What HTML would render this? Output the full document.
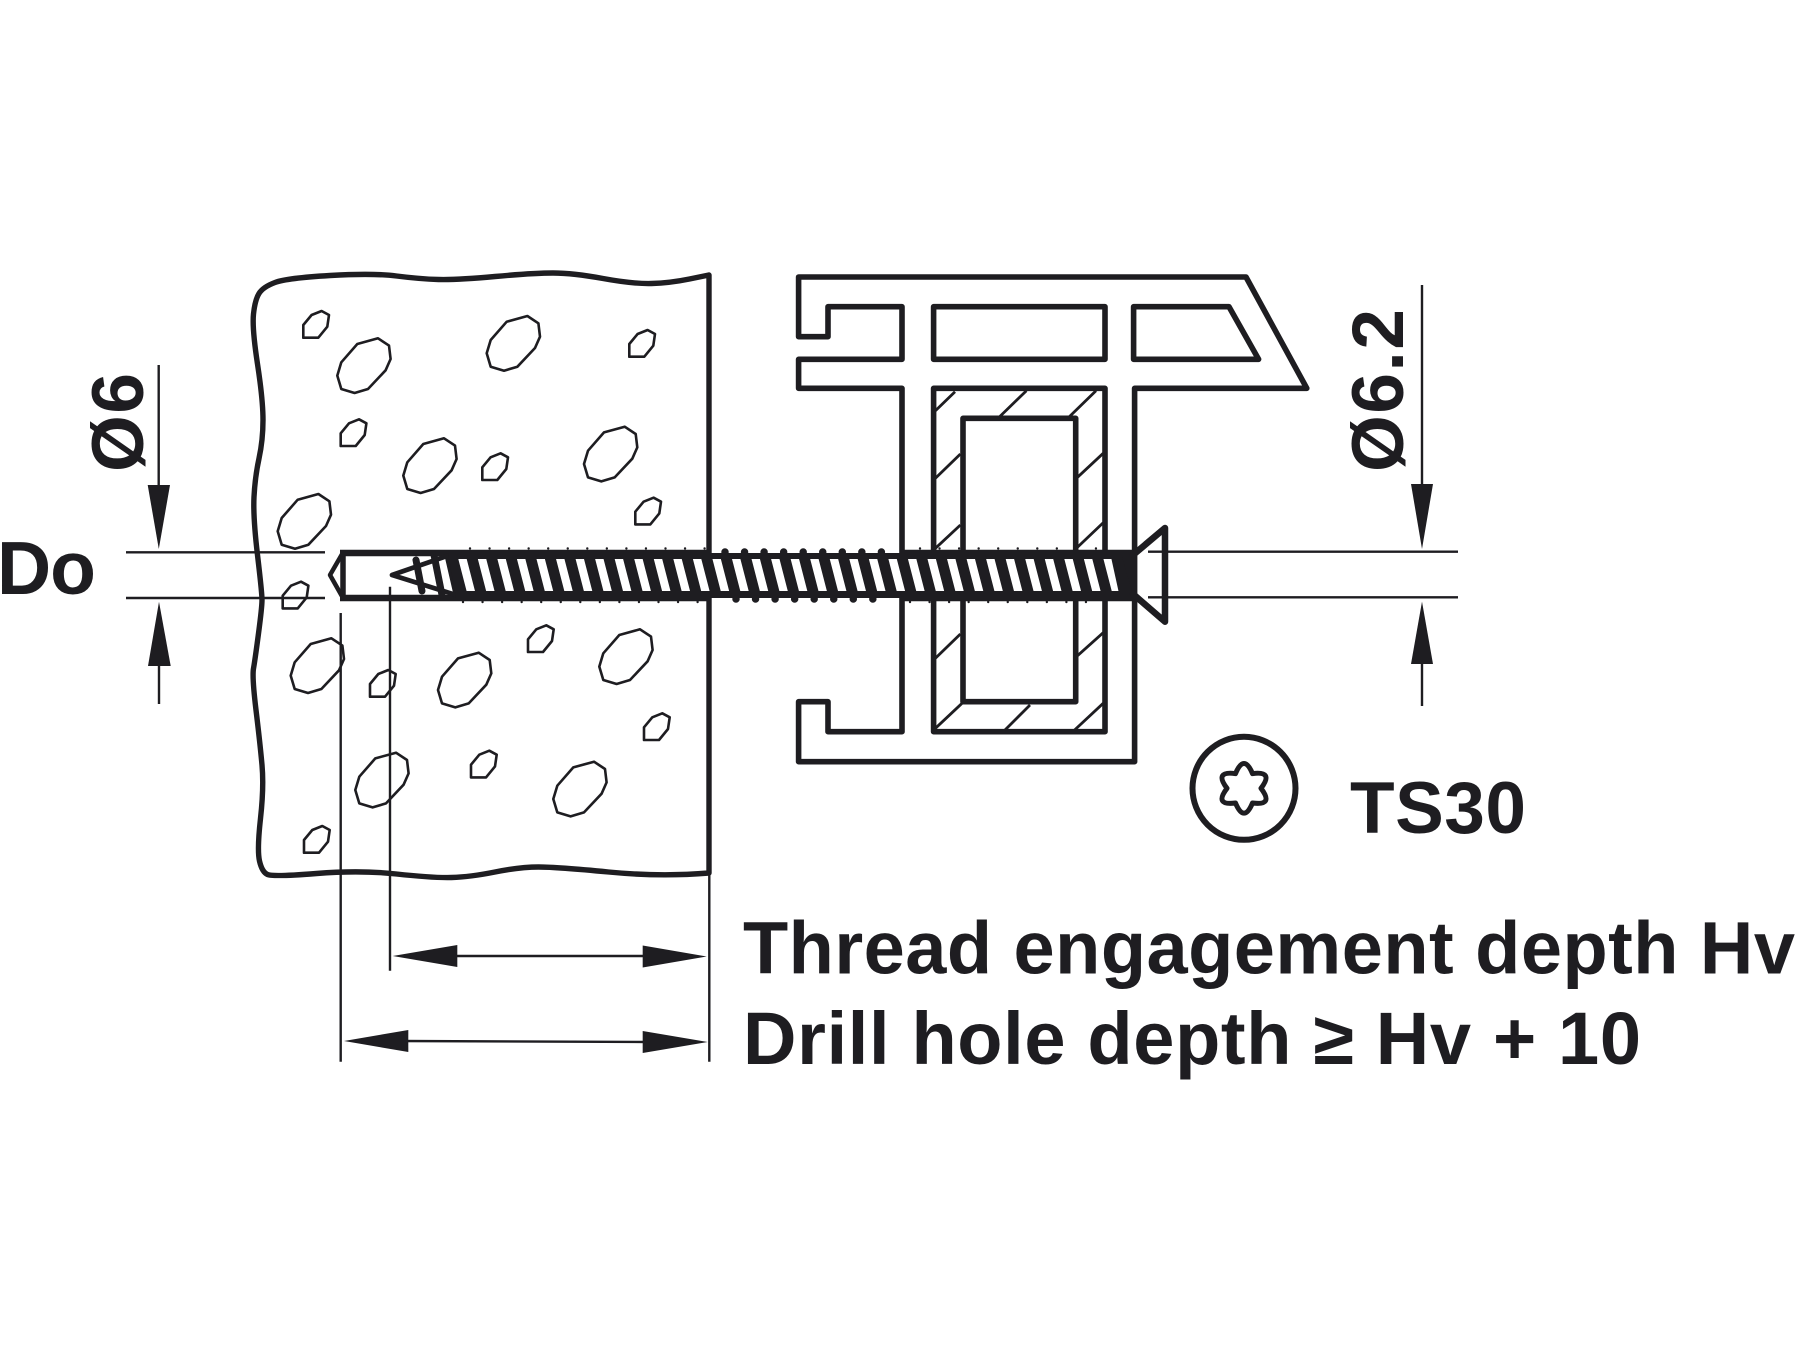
<!DOCTYPE html>
<html>
<head>
<meta charset="utf-8">
<style>
html,body{margin:0;padding:0;background:#fff;width:1800px;height:1350px;overflow:hidden}
svg{display:block}
text{font-family:"Liberation Sans",Arial,sans-serif;font-weight:bold;fill:#1e1d21}
</style>
</head>
<body>
<svg width="1800" height="1350" viewBox="0 0 1800 1350" xmlns="http://www.w3.org/2000/svg">
<defs>
<polygon id="big" points="40.7,0 51.7,7.3 53.3,20.7 48.3,32 30.7,50.7 17.3,54.7 4,50.7 0,37.3 4,24 20,5.7" fill="none" stroke="#1e1d21" stroke-width="2.6" stroke-linejoin="round"/>
<polygon id="small" points="18.3,0 25.7,4 24,15.7 15,26.7 0,26.7 0,14 8.3,4" fill="none" stroke="#1e1d21" stroke-width="2.6" stroke-linejoin="round"/>
</defs>
<rect width="1800" height="1350" fill="#fff"/>

<!-- concrete outline -->
<path d="M709,275 L689.5,279 Q670,283 651.5,283.5 Q633,284 603,278.5 Q573,273 553,273 Q533,273 495,276.5 Q457,280 438.5,279.5 Q420,279 396.5,276 Q373,273 330,275.5 Q287,278 275,282.5 Q263,287 259,293.5 Q255,300 253.5,314 Q252,328 257.5,364 Q263,400 263,420 Q263,440 259,458.5 Q255,477 254,497 Q253,517 257.5,555 Q262,593 262,600 Q262,607 258.5,633.5 Q255,660 253.5,668.5 Q252,677 256,710 Q260,743 262,765 Q264,787 260.5,818.5 Q257,850 259.5,861 Q262,872 267.5,874.5 Q273,877 316.5,873.5 Q360,870 396.5,874 Q433,878 451.5,877.5 Q470,877 495,872 Q520,867 538.5,867 Q557,867 608.5,872 Q660,877 709,873 V275 Z" fill="none" stroke="#1e1d21" stroke-width="5.4" stroke-linejoin="round"/>

<!-- stones -->
<g>
<use href="#big" x="486.7" y="316"/><use href="#big" x="337.3" y="338.3"/><use href="#big" x="403.3" y="438.3"/><use href="#big" x="584" y="426.7"/><use href="#big" x="277.7" y="494"/>
<use href="#big" x="290.7" y="638.3"/><use href="#big" x="438" y="652.7"/><use href="#big" x="599.3" y="629.3"/><use href="#big" x="355.3" y="752.7"/><use href="#big" x="553.3" y="761.7"/>
<use href="#small" x="303.3" y="311"/><use href="#small" x="629.3" y="330"/><use href="#small" x="340.7" y="419.3"/><use href="#small" x="482.3" y="453.3"/><use href="#small" x="635.3" y="497.7"/><use href="#small" x="282.7" y="581.7"/><use href="#small" x="528" y="625.3"/>
<use href="#small" x="370" y="670"/><use href="#small" x="644" y="713.3"/><use href="#small" x="471" y="750.7"/><use href="#small" x="304" y="826"/>
</g>

<!-- profile -->
<g fill="none" stroke="#1e1d21" stroke-width="5.6" stroke-linejoin="round" stroke-linecap="round">
<path d="M902,600 V731.7 H828 V701.7 H798.6 V761.7 H1134.6 V388.3 H1306.8 L1246,277 H798.6 V336.7 H828 V306.7 H902 V359.3 H798.6 V388.3 H902 V600"/>
<rect x="933.6" y="306.7" width="171.4" height="52.6"/>
<path d="M1133.6,306.7 H1229 L1258.6,359.3 H1133.6 Z"/>
<rect x="933.6" y="388.3" width="171.4" height="343.4"/>
<rect x="963" y="418.3" width="112.7" height="283.4"/>
</g>
<g stroke="#1e1d21" stroke-width="2.8" fill="none">
<path d="M935.4,410.7 L955,391.7 M999.6,416.7 L1026.4,390.7 M1069.3,416.7 L1096,390.7 M935.4,478.3 L960.4,454 M1076.4,478.3 L1103.2,453.3 M935.4,548.3 L960.4,525 M1076.4,548.3 L1103.2,522.7 M935.4,658.3 L960.4,634 M1076.4,656.7 L1103.2,632.7 M935.4,728.3 L962,703.3 M1005,730 L1030,705 M1074.6,730 L1103.2,703.3"/>
</g>

<!-- centre thin lines -->
<g stroke="#1e1d21" stroke-width="2.4" fill="none">
<path d="M126,552.3 H325 M126,598 H325 M1148,551.7 H1458 M1148,597.3 H1458"/>
</g>

<!-- drill hole -->
<g stroke="#1e1d21" fill="none" stroke-linejoin="round">
<path d="M343,553 V598" stroke-width="5.5"/>
<path d="M343,552.5 L330,575 L343,598" stroke-width="4.5"/>
<path d="M340,553 H710 M902,553 H1134 M340,598 H710 M902,598 H1134" stroke-width="6.5"/>
</g>

<!-- screw -->
<g>
<path d="M392,575 L447,556 L456,595 Z" fill="#fff" stroke="#1e1d21" stroke-width="4.8" stroke-linejoin="round"/>
<path d="M416,560 L422,591 M434,555 L442,595" stroke="#1e1d21" stroke-width="7" stroke-linecap="round" fill="none"/>
<path d="M448,553 H1134 V598 H456 Z" fill="#1e1d21"/>
<g transform="translate(438.8,559) skewX(14.5)">
<line x1="19.5" y1="16" x2="674" y2="16" stroke="#fff" stroke-width="32" stroke-dasharray="8.4 11.15"/>
</g>
<path d="M1122,557 L1134,598 H1120 L1111,557 Z" fill="#1e1d21"/>
<!-- thread bumps -->
<path d="M725,552 H895" stroke="#1e1d21" stroke-width="7.5" stroke-linecap="round" stroke-dasharray="0 19.55" fill="none"/>
<path d="M736,599 H890" stroke="#1e1d21" stroke-width="7.5" stroke-linecap="round" stroke-dasharray="0 19.55" fill="none"/>
<path d="M470,548.5 H705 M920,548.5 H1110" stroke="#1e1d21" stroke-width="2.4" stroke-linecap="round" stroke-dasharray="0 19.55" fill="none"/>
<path d="M463,602 H705 M910,602 H1120" stroke="#1e1d21" stroke-width="2.4" stroke-linecap="round" stroke-dasharray="0 19.55" fill="none"/>
<!-- head -->
<path d="M1133,555 L1165,528 V621.7 L1133,594" fill="none" stroke="#1e1d21" stroke-width="6.5" stroke-linejoin="round" stroke-linecap="round"/>
</g>

<!-- dimension lines -->
<g stroke="#1e1d21" stroke-width="2.4" fill="none">
<path d="M340.7,613 V1061.7 M390,586.7 V970.7 M709.3,875 V1061.7"/>
<path d="M450,956 H650 M400,1041 L650,1042"/>
<path d="M158.7,365 V490 M159,660 V704 M1422,285 V490 M1422,660 V706"/>
</g>
<g fill="#1e1d21">
<polygon points="392.7,956 457.3,945 457.3,967"/>
<polygon points="706.7,956.5 642.7,945.5 642.7,967.5"/>
<polygon points="344,1041 408.3,1030 408.3,1052"/>
<polygon points="707.7,1042 642.7,1031 642.7,1053"/>
<polygon points="147.7,485 170,485 158.8,549"/>
<polygon points="148,666 170.7,666 159,601.7"/>
<polygon points="1411,484 1433,484 1422,549"/>
<polygon points="1411,664 1433,664 1422,601.6"/>
</g>

<!-- torx -->
<circle cx="1244" cy="788.3" r="51.5" fill="none" stroke="#1e1d21" stroke-width="6"/>
<path transform="translate(1244,788.3)" d="M-8.5,-14.7 Q0,-35 8.5,-14.7 Q30.3,-17.5 17,0 Q30.3,17.5 8.5,14.7 Q0,35 -8.5,14.7 Q-30.3,17.5 -17,0 Q-30.3,-17.5 -8.5,-14.7 Z" fill="none" stroke="#1e1d21" stroke-width="5" stroke-linejoin="round"/>

<!-- labels -->
<text x="1350" y="833" font-size="73" textLength="176" lengthAdjust="spacing">TS30</text>
<text x="743" y="973.5" font-size="74" textLength="1052" lengthAdjust="spacing">Thread engagement depth Hv</text>
<text x="743" y="1064" font-size="74" textLength="898" lengthAdjust="spacing">Drill hole depth ≥ Hv + 10</text>
<text x="-3" y="594" font-size="75" textLength="99" lengthAdjust="spacing">Do</text>
<text transform="translate(143,472) rotate(-90)" x="0" y="0" font-size="73" textLength="99" lengthAdjust="spacing">Ø6</text>
<text transform="translate(1403,472) rotate(-90)" x="0" y="0" font-size="73" textLength="163" lengthAdjust="spacing">Ø6.2</text>
</svg>
</body>
</html>
